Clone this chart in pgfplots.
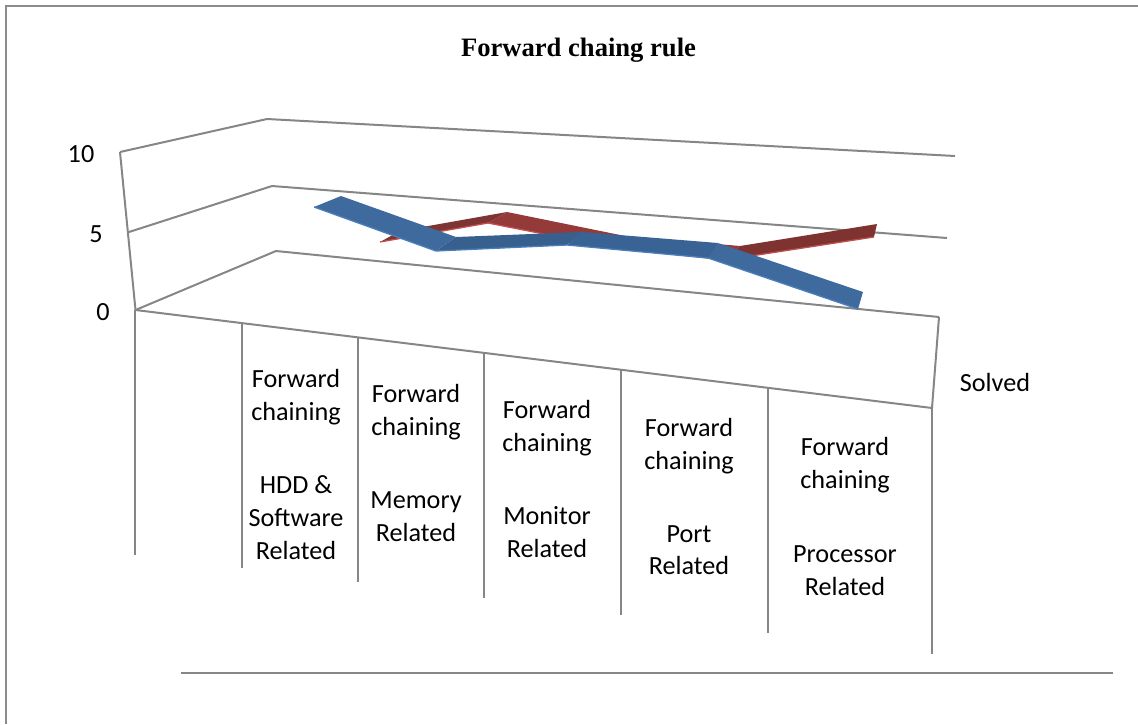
\documentclass[border=0pt]{standalone}
\usepackage{pgfplots}
\pgfplotsset{compat=1.18}
\usepackage{fontspec}
\setmainfont{Carlito}
\newfontfamily\titlefont{Liberation Serif}
\definecolor{gridgray}{HTML}{868686}
\definecolor{framegray}{HTML}{8C8C8C}
\definecolor{blueA}{HTML}{3F6A9E}
\definecolor{blueB}{HTML}{38608F}
\definecolor{blueC}{HTML}{3A6395}
\definecolor{blueEdge}{HTML}{4A7EBB}
\definecolor{redA}{HTML}{7E3432}
\definecolor{redB}{HTML}{943B39}
\definecolor{redC}{HTML}{7F3331}
\definecolor{redEdge}{HTML}{C0504D}
\newcommand{\lab}[3]{\node[anchor=base,yshift=1pt,font=\fontsize{26.2}{30}\selectfont,text=black,inner sep=0pt] at (axis cs:#1,#2) {#3};}
\begin{document}
\begin{tikzpicture}
\begin{axis}[
  scale only axis, width=1138pt, height=724pt,
  xmin=0, xmax=1138, ymin=0, ymax=724, y dir=reverse,
  ticks=none, axis line style={draw=none}, clip=true,
]
% chart frame
\addplot[framegray, line width=2.6pt] coordinates {(6,724) (6,6) (1138,6)};
% wall gridlines at 10, 5 and 0
\addplot[gridgray, line width=2pt] coordinates {(120,152) (267,119) (955,156)};
\addplot[gridgray, line width=2pt] coordinates {(129,232) (272,186) (947,238)};
\addplot[gridgray, line width=2pt] coordinates {(135.5,310) (276,251) (939,317)};
% wall edge and floor outline
\addplot[gridgray, line width=2pt] coordinates {(120,152) (135.5,310) (932,408) (939,317)};
% category separators
\addplot[gridgray, line width=2.2pt] coordinates {(135,310) (135,555)};
\addplot[gridgray, line width=2.2pt] coordinates {(242,323) (242,568)};
\addplot[gridgray, line width=2.2pt] coordinates {(358,338) (358,582)};
\addplot[gridgray, line width=2.2pt] coordinates {(484,353) (484,598)};
\addplot[gridgray, line width=2.2pt] coordinates {(621,370) (621,615)};
\addplot[gridgray, line width=2.2pt] coordinates {(768,388) (768,633)};
\addplot[gridgray, line width=2.2pt] coordinates {(932,408) (932,654)};
% rule below the categories
\addplot[gridgray, line width=2.8pt] coordinates {(181,673) (1113,673)};
% red ribbon (back series)
\addplot[fill=redA, draw=none] coordinates {(380,242) (400,231) (507,212) (488,223) (380,242)};
\addplot[fill=redB, draw=none] coordinates {(488,223) (507,212) (625,236) (610,247) (488,223)};
\addplot[fill=redB, draw=none] coordinates {(610,247) (625,236) (740,246) (725,260) (610,247)};
\addplot[fill=redC, draw=none] coordinates {(725,260) (740,246) (877,224) (874,237) (725,260)};
\addplot[redEdge, line width=1.3pt, line join=round] coordinates {(380,242) (488,223) (610,247) (725,260) (874,237)};
% blue ribbon (front series)
\addplot[fill=blueA, draw=none] coordinates {(314,207) (341,196) (456,237) (436,251) (314,207)};
\addplot[fill=blueB, draw=none] coordinates {(436,251) (456,237) (582,232) (567,245) (436,251)};
\addplot[fill=blueC, draw=none] coordinates {(567,245) (582,232) (718,243) (708,258) (567,245)};
\addplot[fill=blueA, draw=none] coordinates {(708,258) (718,243) (863,292) (858,309) (708,258)};
\addplot[blueEdge, line width=1.3pt, line join=round] coordinates {(314,207) (436,251) (567,245) (708,258) (858,309)};
% title
\node[anchor=base, inner sep=0pt, font=\titlefont\bfseries\fontsize{26.6}{30}\selectfont] at (axis cs:578.5,56.5) {Forward chaing rule};
% value axis labels
\lab{81}{163}{10}
\lab{96}{243}{5}
\lab{103}{321}{0}
\lab{995}{392}{Solved}
% category labels
\lab{296}{388}{Forward}
\lab{296}{421}{chaining}
\lab{296}{494}{HDD \&}
\lab{296}{527}{Software}
\lab{296}{560}{Related}
\lab{416}{403}{Forward}
\lab{416}{436}{chaining}
\lab{416}{509}{Memory}
\lab{416}{542}{Related}
\lab{547}{419}{Forward}
\lab{547}{452}{chaining}
\lab{547}{525}{Monitor}
\lab{547}{558}{Related}
\lab{689}{437}{Forward}
\lab{689}{470}{chaining}
\lab{689}{543}{Port}
\lab{689}{575}{Related}
\lab{845}{456}{Forward}
\lab{845}{489}{chaining}
\lab{845}{563}{Processor}
\lab{845}{596}{Related}
\end{axis}
\end{tikzpicture}
\end{document}
